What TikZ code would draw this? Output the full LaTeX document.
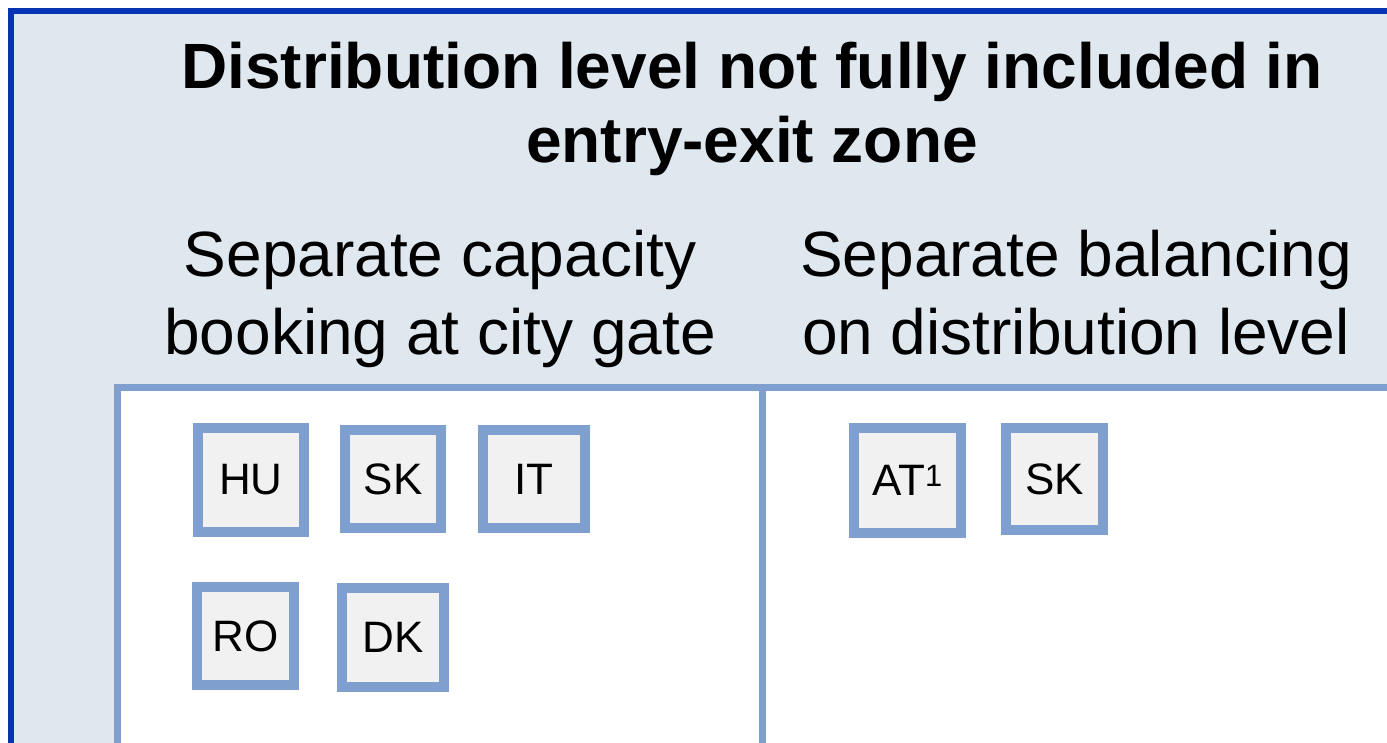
\documentclass[tikz,border=0pt]{standalone}
\usepackage{fontspec}
\setmainfont{Liberation Sans}
\definecolor{framedark}{HTML}{0634B4}
\definecolor{paneback}{HTML}{DFE7EF}
\definecolor{panelline}{HTML}{7F9FCE}
\definecolor{tagfill}{HTML}{F1F1F1}
\begin{document}
\begin{tikzpicture}[x=1pt,y=-1pt,
    heading/.style={align=center,inner sep=0pt,anchor=base},
    country/.style={draw=panelline,fill=tagfill,line width=10pt,
        inner sep=0pt,font={\fontsize{44}{50}\selectfont}}]
\useasboundingbox (0,0) rectangle (1387,743);
\clip (0,0) rectangle (1387,743);
% frame and panel
\draw[framedark,line width=5.5pt,fill=paneback](11,11) rectangle (1500,900);
\draw[panelline,line width=7pt,fill=white](117,387) rectangle (1395,900);
\draw[panelline,line width=7pt](762,387)--(762,743);

% base anchor sits on the last line
\node[heading,font={\bfseries\fontsize{64}{74}\selectfont}] (title) at (752,163)
    {Distribution level not fully included in\\entry-exit zone};
\node[heading,font={\fontsize{64}{78}\selectfont}] (bookinghead) at (440,355)
    {Separate capacity\\booking at city gate};
\node[heading,font={\fontsize{64}{78}\selectfont}] (balancinghead) at (1076,355)
    {Separate balancing\\on distribution level};

\node[country,minimum width=106pt,minimum height=104pt] (hu) at (251,480) {HU};
\node[country,minimum width=96pt,minimum height=98pt] (sk) at (393,479) {SK};
\node[country,minimum width=102pt,minimum height=98pt] (it) at (534,479) {IT};
\node[country,minimum width=97pt,minimum height=98pt] (ro) at (245.5,636) {RO};
\node[country,minimum width=102pt,minimum height=99pt] (dk) at (393,637.5) {DK};
\node[country,minimum width=107pt,minimum height=105pt] (at) at (907.5,480.5)
    {AT\textsuperscript{1}};
\node[country,minimum width=97pt,minimum height=102pt] (skbal) at (1054.5,479) {SK};
\end{tikzpicture}
\end{document}
